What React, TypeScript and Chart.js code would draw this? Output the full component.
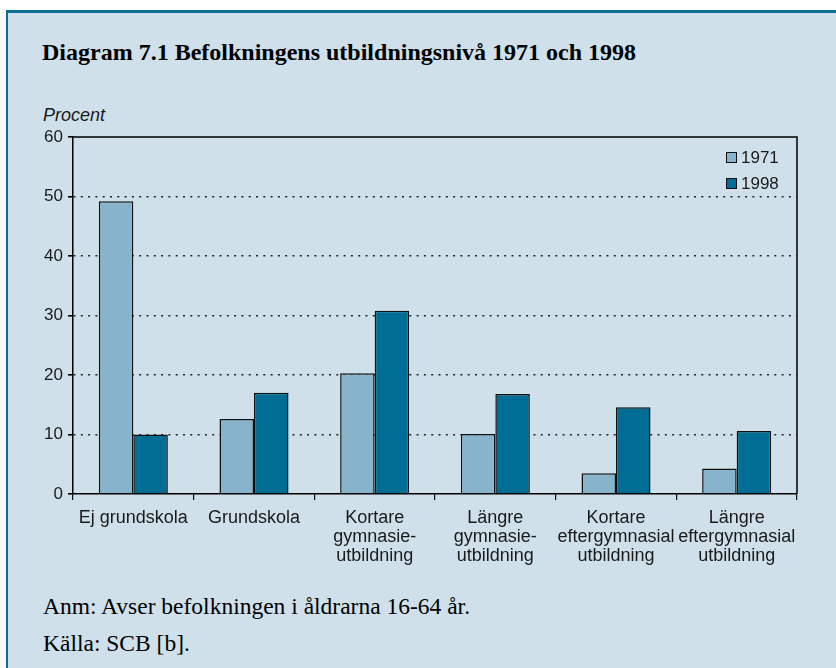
import React, { useEffect, useRef } from "react";
import { Chart, registerables } from "chart.js";

Chart.register(...registerables);

const categories: string[][] = [
  ["Ej grundskola"],
  ["Grundskola"],
  ["Kortare", "gymnasie-", "utbildning"],
  ["Längre", "gymnasie-", "utbildning"],
  ["Kortare", "eftergymnasial", "utbildning"],
  ["Längre", "eftergymnasial", "utbildning"],
];
const series1971 = [49.2, 12.6, 20.3, 10.1, 3.5, 4.3];
const series1998 = [10.0, 17.0, 30.8, 16.8, 14.6, 10.6];
const seriesLabels = ["1971", "1998"];
const yMin = 0;
const yMax = 60;
const yStep = 10;

const COLOR_1971 = "#88b4cb";
const COLOR_1998 = "#006d94";
const PANEL_BG = "#cfe0ea";
const FRAME = "#0d6f94";
const SANS = "'Liberation Sans', Arial, sans-serif";
const SERIF = "'Liberation Serif', 'Times New Roman', serif";

const CANVAS_TOP = 120;
const CANVAS_W = 836;
const CANVAS_H = 460;

const framePlugin = {
  id: "plotFrame",
  afterDraw(chart: any) {
    const { ctx, chartArea } = chart;
    ctx.save();
    ctx.strokeStyle = "#000";
    ctx.lineWidth = 1.5;
    ctx.setLineDash([]);
    ctx.beginPath();
    ctx.moveTo(chartArea.left, chartArea.top);
    ctx.lineTo(chartArea.right, chartArea.top);
    ctx.lineTo(chartArea.right, chartArea.bottom);
    ctx.stroke();
    ctx.restore();
  },
};

export default function App() {
  const ref = useRef<HTMLCanvasElement | null>(null);

  useEffect(() => {
    if (!ref.current) return;
    const chart = new Chart(ref.current, {
      type: "bar",
      data: {
        labels: categories,
        datasets: [
          {
            label: seriesLabels[0],
            data: series1971,
            backgroundColor: COLOR_1971,
            borderColor: "#111",
            borderWidth: 1.5,
            barPercentage: 1,
            categoryPercentage: 0.572,
          },
          {
            label: seriesLabels[1],
            data: series1998,
            backgroundColor: COLOR_1998,
            borderColor: "#111",
            borderWidth: 1.5,
            barPercentage: 1,
            categoryPercentage: 0.572,
          },
        ],
      },
      options: {
        responsive: false,
        animation: false,
        layout: { padding: { top: 17, right: 39, left: 0, bottom: 0 } },
        plugins: {
          legend: { display: false },
          tooltip: { enabled: false },
        },
        scales: {
          x: {
            offset: true,
            grid: {
              offset: true,
              drawOnChartArea: false,
              drawTicks: true,
              tickLength: 6,
              color: "#000",
              lineWidth: 1.2,
            },
            border: { display: true, color: "#000", width: 1.5 },
            ticks: {
              autoSkip: false,
              maxRotation: 0,
              minRotation: 0,
              padding: 8,
              color: "#1a1a1a",
              font: { family: SANS, size: 18, lineHeight: 1.07 },
            },
            afterFit(scale: any) {
              scale.height = 86;
            },
          },
          y: {
            min: yMin,
            max: yMax,
            ticks: {
              stepSize: yStep,
              padding: 5,
              color: "#1a1a1a",
              font: { family: SANS, size: 17 },
            },
            grid: {
              drawTicks: true,
              tickLength: 5,
              lineWidth: 1.6,
              color: (c: any) =>
                c.tick && (c.tick.value === yMin || c.tick.value === yMax)
                  ? "rgba(0,0,0,0)"
                  : "#222",
              tickColor: "#000",
              tickBorderDash: [],
            } as any,
            border: { display: true, color: "#000", width: 1.5, dash: [2, 5.3] },
            afterFit(scale: any) {
              scale.width = 73;
            },
          },
        },
      },
      plugins: [framePlugin],
    } as any);
    return () => chart.destroy();
  }, []);

  const legendItems = [
    { label: seriesLabels[0], color: COLOR_1971, top: 152 },
    { label: seriesLabels[1], color: COLOR_1998, top: 178 },
  ];

  return (
    <div
      style={{
        position: "fixed",
        left: 0,
        top: 0,
        width: 836,
        height: 668,
        background: "#fff",
        overflow: "hidden",
      }}
    >
      <div
        style={{
          position: "absolute",
          left: 6,
          top: 10,
          right: 0,
          bottom: 0,
          background: PANEL_BG,
          borderTop: `3px solid ${FRAME}`,
          borderLeft: `2px solid ${FRAME}`,
        }}
      />
      <div
        style={{
          position: "absolute",
          left: 42,
          top: 38,
          fontFamily: SERIF,
          fontWeight: "bold",
          fontSize: 24,
          lineHeight: "28px",
          color: "#000",
          whiteSpace: "nowrap",
        }}
      >
        Diagram 7.1 Befolkningens utbildningsnivå 1971 och 1998
      </div>
      <div
        style={{
          position: "absolute",
          left: 43,
          top: 104,
          fontFamily: SANS,
          fontStyle: "italic",
          fontSize: 18,
          lineHeight: "22px",
          color: "#1a1a1a",
        }}
      >
        Procent
      </div>
      <canvas
        ref={ref}
        width={CANVAS_W}
        height={CANVAS_H}
        style={{
          position: "absolute",
          left: 0,
          top: CANVAS_TOP,
          width: CANVAS_W,
          height: CANVAS_H,
        }}
      />
      {legendItems.map((it) => (
        <div
          key={it.label}
          style={{
            position: "absolute",
            left: 726,
            top: it.top,
            display: "flex",
            alignItems: "center",
            height: 11,
          }}
        >
          <div
            style={{
              width: 9,
              height: 9,
              background: it.color,
              border: "1px solid #111",
            }}
          />
          <span
            style={{
              marginLeft: 4,
              fontFamily: SANS,
              fontSize: 17,
              lineHeight: "11px",
              color: "#1a1a1a",
            }}
          >
            {it.label}
          </span>
        </div>
      ))}
      <div
        style={{
          position: "absolute",
          left: 43,
          top: 592,
          fontFamily: SERIF,
          fontSize: 23.5,
          lineHeight: "28px",
          color: "#000",
          whiteSpace: "nowrap",
        }}
      >
        Anm: Avser befolkningen i åldrarna 16-64 år.
      </div>
      <div
        style={{
          position: "absolute",
          left: 43,
          top: 629,
          fontFamily: SERIF,
          fontSize: 23.5,
          lineHeight: "28px",
          color: "#000",
          whiteSpace: "nowrap",
        }}
      >
        Källa: SCB [b].
      </div>
    </div>
  );
}
